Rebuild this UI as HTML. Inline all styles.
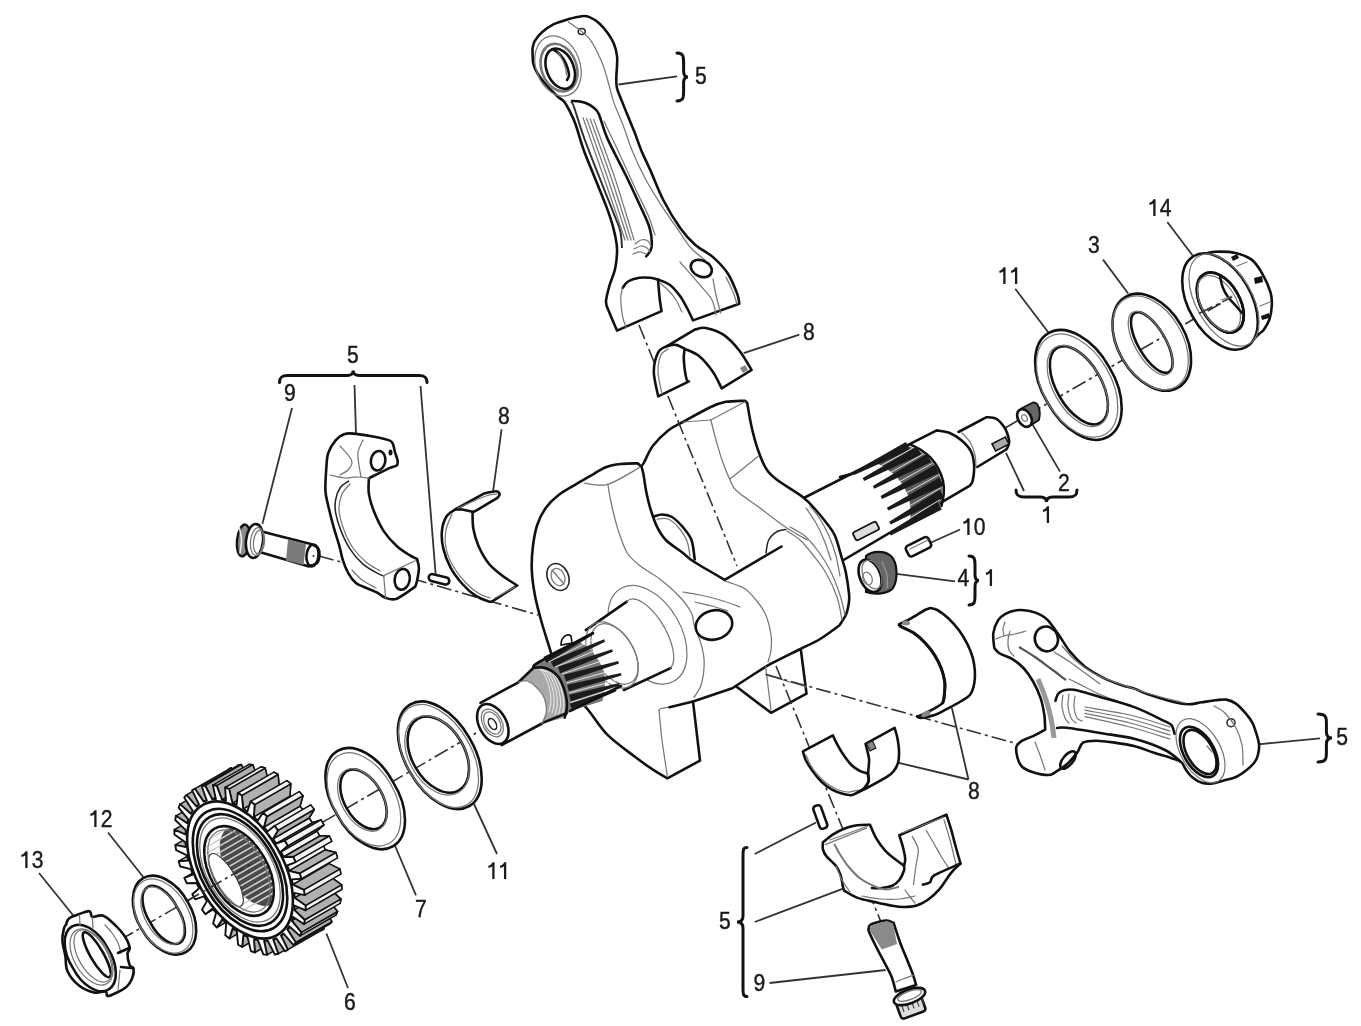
<!DOCTYPE html>
<html><head><meta charset="utf-8"><title>Crankshaft exploded view</title>
<style>
html,body{margin:0;padding:0;background:#fff;}
body{width:1361px;height:1026px;overflow:hidden;}
svg{display:block;filter:blur(0.45px);}
.k{fill:#fff;stroke:#111;stroke-width:2.6;stroke-linejoin:round;stroke-linecap:round;}
.kn{fill:none;stroke:#111;stroke-width:2.6;stroke-linejoin:round;stroke-linecap:round;}
.t{fill:none;stroke:#777;stroke-width:1.25;stroke-linecap:round;}
.m{fill:none;stroke:#222;stroke-width:1.5;stroke-linecap:round;}
.d{fill:none;stroke:#333;stroke-width:1.6;stroke-dasharray:15 4 3 4;}
.l{stroke:#333;stroke-width:1.8;}
.br{fill:none;stroke:#111;stroke-width:3;stroke-linecap:round;}
text{font-family:"Liberation Sans",sans-serif;font-size:22px;fill:#1a1a1a;stroke:#1a1a1a;stroke-width:0.4;}
</style></head>
<body>
<svg width="1361" height="1026" viewBox="0 0 1361 1026">
<path class="d" d="M120,940 L495,722"/>
<path class="d" d="M1005,428 L1232,297"/>
<path class="d" d="M319,556 L341,562"/>
<path class="d" d="M412,578.5 L538,615"/>
<path class="d" d="M639,325 L667.9,396"/>
<path class="d" d="M808.8,746 L881,922"/>
<line class="l" x1="618.5" y1="84.5" x2="677" y2="76.4"/>
<path class="br" d="M677,53 C683.6,53 683.6,57 683.6,62 L683.6,71 C683.6,76 685.8,77 688,77 C685.8,77 683.6,78 683.6,83 L683.6,92 C683.6,97 683.6,101 677,101"/>
<line class="l" x1="1167.3" y1="222" x2="1193" y2="256"/>
<line class="l" x1="1103" y1="259.6" x2="1128.2" y2="293.5"/>
<line class="l" x1="1015.2" y1="288.8" x2="1049" y2="333.3"/>
<line class="l" x1="743.7" y1="353.2" x2="799.3" y2="334.7"/>
<path class="br" d="M279.5,382.5 C279.5,377.5 281.5,375.5 287.5,375.5 L347.2,375.5 C351.2,375.5 353.2,373.5 353.2,370.5 C353.2,373.5 355.2,375.5 359.2,375.5 L419,375.5 C425,375.5 427,377.5 427,382.5"/>
<line class="l" x1="354.5" y1="385" x2="356" y2="433.5"/>
<line class="l" x1="292" y1="408" x2="262.4" y2="523.7"/>
<line class="l" x1="420.5" y1="386" x2="435.6" y2="573.7"/>
<line class="l" x1="501.6" y1="429.4" x2="493.1" y2="491"/>
<line class="l" x1="1032" y1="423.6" x2="1060" y2="471.6"/>
<path class="br" d="M1016,490 C1016,495 1018,497 1024,497 L1040.5,497 C1044.5,497 1046.5,499 1046.5,502 C1046.5,499 1048.5,497 1052.5,497 L1069,497 C1075,497 1077,495 1077,490"/>
<line class="l" x1="1006" y1="452.8" x2="1024" y2="491"/>
<line class="l" x1="960" y1="529.5" x2="930.5" y2="542.7"/>
<line class="l" x1="896.4" y1="573.8" x2="955" y2="581.4"/>
<path class="br" d="M969,556 C975,556 975,560 975,565 L975,574.5 C975,579.5 977,580.5 979,580.5 C977,580.5 975,581.5 975,586.5 L975,596 C975,601 975,605 969,605"/>
<line class="l" x1="1258" y1="744.3" x2="1320" y2="738.3"/>
<path class="br" d="M1318,714 C1326.4,714 1326.4,718 1326.4,723 L1326.4,732 C1326.4,737 1329.2,738 1332,738 C1329.2,738 1326.4,739 1326.4,744 L1326.4,753 C1326.4,758 1326.4,762 1318,762"/>
<line class="l" x1="968.5" y1="779.5" x2="898.8" y2="762.8"/>
<line class="l" x1="968.5" y1="779.5" x2="951.9" y2="708"/>
<line class="l" x1="474" y1="804" x2="497" y2="854"/>
<line class="l" x1="394.3" y1="844" x2="416" y2="895.4"/>
<line class="l" x1="326.4" y1="933.5" x2="348" y2="988"/>
<line class="l" x1="108" y1="832.5" x2="144" y2="878"/>
<line class="l" x1="39" y1="873" x2="73.7" y2="916"/>
<path class="br" d="M747,847.5 C743,847.5 743,850.5 743,855.5 L743,916 C743,921 740,922 737,922 C740,922 743,923 743,928 L743,988.5 C743,993.5 743,996.5 747,996.5"/>
<line class="l" x1="754.7" y1="854" x2="816" y2="822.5"/>
<line class="l" x1="754.7" y1="922" x2="842.5" y2="888.8"/>
<line class="l" x1="769.6" y1="983" x2="885.6" y2="970"/>
<g id="washers_r">
<path class="" d="M1205,254C1206.6,253.6 1209.3,251.9 1214.4,251.7C1219.5,251.5 1229.2,251.5 1235.5,252.9C1241.8,254.3 1247.4,256.4 1251.9,259.9C1256.4,263.4 1259.3,268.4 1262.4,273.9C1265.5,279.3 1269,287.3 1270.6,292.6C1272.2,297.9 1272,301 1271.8,305.5C1271.6,310 1270.8,315.4 1269.4,319.5C1268,323.6 1265.3,327.6 1263.6,330C1261.8,332.4 1261.2,331.8 1258.9,334C1256.6,336.2 1251.5,341.5 1250,343L1220,300Z" fill="#fff"/>
<path class="kn" d="M1205,254C1206.6,253.6 1209.3,251.9 1214.4,251.7C1219.5,251.5 1229.2,251.5 1235.5,252.9C1241.8,254.3 1247.4,256.4 1251.9,259.9C1256.4,263.4 1259.3,268.4 1262.4,273.9C1265.5,279.3 1269,287.3 1270.6,292.6C1272.2,297.9 1272,301 1271.8,305.5C1271.6,310 1270.8,315.4 1269.4,319.5C1268,323.6 1265.3,327.6 1263.6,330C1261.8,332.4 1261.2,331.8 1258.9,334C1256.6,336.2 1251.5,341.5 1250,343"/>
<path d="M1254,278 L1262,276 L1263,282 L1255,284 Z" fill="#111"/>
<path d="M1231,257 L1237,254 L1239,258 L1233,261 Z" fill="#111"/>
<path d="M1261,316 L1269,313 L1269,318 L1262,320 Z" fill="#111"/>
<path class="t" d="M1237,266L1247,262"/>
<path class="t" d="M1260,306L1270,302"/>
<path class="k" d="M1247.1,285.8A31.3,52.4 -30 1 0 1192.9,317.2A31.3,52.4 -30 1 0 1247.1,285.8ZM1237.1,292.8A19.4,32.6 -30 1 0 1203.5,312.2A19.4,32.6 -30 1 0 1237.1,292.8Z" fill-rule="evenodd"/>
<ellipse class="t" cx="1224" cy="300" rx="27.9" ry="50.6" transform="rotate(-30 1224 300)"/>
<ellipse class="kn" cx="1220.3" cy="302.5" rx="19.4" ry="32.6" transform="rotate(-30 1220.3 302.5)"/>
<ellipse class="t" cx="1219" cy="303.5" rx="17.4" ry="30.7" transform="rotate(-30 1219 303.5)"/>
<path class="kn" d="M1220,277C1220.5,278.8 1221.7,284.7 1223,288C1224.3,291.3 1225.8,294 1228,297C1230.2,300 1233.7,303.3 1236,306C1238.3,308.7 1241,311.8 1242,313"/>
<path class="t" d="M1221,300L1232,296"/>
<path class="d" d="M1199,313.5 L1232,297"/>
<path class="k" d="M1181.1,325.3A33.8,52.4 -30 1 0 1122.5,359.1A33.8,52.4 -30 1 0 1181.1,325.3ZM1163.7,335.6A13.7,34 -30 1 0 1139.9,349.4A13.7,34 -30 1 0 1163.7,335.6Z" fill-rule="evenodd"/>
<ellipse class="t" cx="1150.5" cy="342.9" rx="32.3" ry="50.8" transform="rotate(-30 1150.5 342.9)"/>
<ellipse class="t" cx="1150.5" cy="343.2" rx="15.4" ry="35.6" transform="rotate(-30 1150.5 343.2)"/>
<path class="k" d="M1109.2,367.1A35.6,57.6 -30 1 0 1047.6,402.7A35.6,57.6 -30 1 0 1109.2,367.1ZM1098.3,374.1A22.4,43.1 -30 1 0 1059.5,396.5A22.4,43.1 -30 1 0 1098.3,374.1Z" fill-rule="evenodd"/>
<ellipse class="t" cx="1077.1" cy="385.6" rx="34" ry="56.1" transform="rotate(-30 1077.1 385.6)"/>
<ellipse class="t" cx="1077.6" cy="386.1" rx="24" ry="44.7" transform="rotate(-30 1077.6 386.1)"/>
<path d="M1022,408 L1033,402.5 C1039,402 1041,412 1039,420 L1028,427 Z" fill="#666" stroke="#111" stroke-width="1.8" stroke-linejoin="round"/>
<ellipse class="k" cx="1024.5" cy="418" rx="6.5" ry="9.5" transform="rotate(-30 1024.5 418)"/>
<ellipse class="t" cx="1024.5" cy="418" rx="2.5" ry="3.5" transform="rotate(-30 1024.5 418)"/>
</g>
<g id="crank">
<path class="" d="M958.5,432L986.6,417.2C988.2,417.4 993.1,417.1 996,418.7C998.9,420.2 1002,424.1 1003.8,426.5C1005.6,428.9 1006.1,430.2 1007,432.8C1007.9,435.4 1009.2,439.4 1009.2,442C1009.2,444.6 1007.6,447.1 1007,448.4C1006.4,449.7 1005.6,449.7 1005.3,450L977.3,467L958.5,432Z" fill="#fff"/>
<path class="kn" d="M958.5,432L986.6,417.2C988.2,417.4 993.1,417.1 996,418.7C998.9,420.2 1002,424.1 1003.8,426.5C1005.6,428.9 1006.1,430.2 1007,432.8C1007.9,435.4 1009.2,439.4 1009.2,442C1009.2,444.6 1007.6,447.1 1007,448.4C1006.4,449.7 1005.6,449.7 1005.3,450L977.3,467"/>
<path class="t" d="M962,433C963.3,434.5 967.8,438.3 970,442C972.2,445.7 974,451 975,455C976,459 975.8,464.2 976,466"/>
<rect x="993" y="440" width="15" height="8" fill="#aaa" stroke="#111" stroke-width="1.6" transform="rotate(-27 1000.5 444)"/>
<path class="k" d="M790,505L936.7,430.4C938.8,430.8 945,431.1 949.2,432.8C953.4,434.5 958.1,437.5 961.7,440.6C965.3,443.7 968.9,447.4 971,451.5C973.1,455.6 973.8,460.6 974.1,465.5C974.4,470.4 973.4,477.7 972.6,481.1C971.8,484.5 970,485 969.5,485.8L830,568Z"/>
<path class="kn" d="M910.2,444.5C912,445.4 917.6,447.8 921,450C924.4,452.2 927.6,454.6 930.5,457.7C933.4,460.8 936.2,464.7 938.3,468.6C940.4,472.5 942.1,476.9 943,481.1C943.9,485.3 944,489.5 943.7,493.6C943.4,497.8 941.8,503.9 941.4,506"/>
<polygon points="875.6,462.4 885.6,467.9 895.7,475.6 903.6,486.1 909.2,498.1 910.8,511.5 909.8,522.6 939.5,505.5 942,494 941.5,481.5 937,469 929,458 919,450.5 908,446" fill="#5a5a5a"/>
<polygon points="854.7,474.7 910.1,450.1 905.9,441.9 853.3,471.9" fill="#1a1a1a"/>
<polygon points="864.1,480.9 921.1,454.6 916.9,446.4 862.7,478.1" fill="#1a1a1a"/>
<polygon points="874.2,488.7 931.1,462.1 926.9,453.9 872.8,485.9" fill="#1a1a1a"/>
<polygon points="882,498.9 939.1,473.1 934.9,464.9 880.6,496.1" fill="#1a1a1a"/>
<polygon points="888.3,510.6 943.6,485.6 939.4,477.4 886.9,507.8" fill="#1a1a1a"/>
<polygon points="890.8,524.6 944.3,498 939.7,490 889.2,521.8" fill="#1a1a1a"/>
<polygon points="890.8,535.4 941.8,509.5 937.2,501.5 889.2,532.6" fill="#1a1a1a"/>
<line x1="861.7" y1="476.4" x2="912.5" y2="448.2" stroke="#eee" stroke-width="0.9"/>
<line x1="871.5" y1="483.4" x2="923" y2="454.2" stroke="#eee" stroke-width="0.9"/>
<line x1="880.4" y1="492.4" x2="932" y2="463.5" stroke="#eee" stroke-width="0.9"/>
<line x1="887.5" y1="503.4" x2="938.2" y2="475.2" stroke="#eee" stroke-width="0.9"/>
<line x1="891.8" y1="516.2" x2="940.8" y2="487.8" stroke="#eee" stroke-width="0.9"/>
<line x1="893" y1="528.6" x2="939.8" y2="499.8" stroke="#eee" stroke-width="0.9"/>
<path class="kn" d="M840,477L854,473.3"/>
<rect x="853" y="526.5" width="26" height="9" rx="2" fill="#ddd" stroke="#111" stroke-width="1.8" transform="rotate(-27 866 531)"/>
<polygon class="k" points="733,684 771,712.8 806.5,693.7 800.5,647"/>
<path class="k" d="M550,649.4C548.6,644.8 543.9,630.4 541.4,621.5C538.9,612.6 536.6,604.4 535,595.8C533.4,587.2 532.1,578.2 531.8,570C531.4,561.8 532,554 532.9,546.5C533.8,539 535.1,531.4 537.2,525C539.3,518.6 542.1,512.9 545.7,507.9C549.3,502.9 553.6,498.9 558.6,495C563.6,491.1 570.4,487.5 575.8,484.3C581.2,481.1 585.8,478.6 590.8,475.7C595.8,472.8 600.8,469.1 605.8,467.2C610.8,465.2 615.4,464.6 620.8,464C626.2,463.4 635.1,463.4 638,463.3C638.5,463.8 640.2,466.2 641.2,466C642.2,465.8 643.8,462.7 644.3,462C645.7,459.3 649,451 652.9,445.8C656.8,440.6 662.9,434.7 667.9,430.7C672.9,426.7 675.8,425.9 682.9,422C690,418.1 703.6,410.4 710.8,407C717.9,403.6 720.1,402.9 725.8,401.8C731.5,400.8 741.8,400.9 745,400.7L747.2,402.9C747.9,406.8 749.7,418.6 751.5,426.5C753.3,434.4 755.5,442.9 758,450C760.5,457.1 763.3,464.3 766.5,469.3C769.7,474.3 771.1,475.4 777.2,480C783.3,484.6 796.6,492.2 803,497.2C809.4,502.2 811.9,505.7 815.8,510C819.7,514.3 823.3,518.7 826.5,523C829.7,527.3 832.5,530.1 835,535.8C837.5,541.5 839.8,551.2 841.6,557.3C843.4,563.4 844.6,566.2 845.8,572.3C847,578.4 848.5,588.6 849,593.7C849.5,598.8 849.3,599.5 848.8,603C848.3,606.5 847.6,610.9 846,614.6C844.4,618.4 840.4,623.7 839.3,625.5C836.1,627.8 827,634.9 820.2,639C813.4,643.1 806.5,645.9 798.3,650C790.1,654.1 777.8,660 771,663.7C764.2,667.4 763.9,667.9 757.4,672C750.9,676.1 736.5,685.5 732.3,688.2L693,701.4L700,760.6L667.3,778.3C665,776.9 659.2,773.8 653.7,770.2C648.2,766.6 642.3,762.4 634.6,756.5C626.9,750.6 615,742.5 607.3,734.7C599.6,727 593.7,716.6 588.2,710C582.7,703.4 579.8,702 574.5,695C569.2,688 560.7,675.6 556.6,668C552.5,660.4 551.1,652.5 550,649.4Z"/>
<path class="t" d="M765.6,666.4L771,710"/>
<path class="t" d="M765.6,674.6L806.5,687"/>
<path class="t" d="M659,710.5C659.3,710.2 659.2,709 661,708.5C662.8,708 668.1,707.4 669.5,707.2"/>
<path class="t" d="M659,710C659.5,715 660.6,729.1 662,740C663.4,750.9 666.4,769.7 667.3,775.6"/>
<path class="kn" d="M669.5,707.2L693,701.4"/>
<path class="kn" d="M641.2,466C641.6,467.3 642.4,469.1 643.3,473.6C644.2,478.1 645.2,486.8 646.5,492.9C647.8,499 649,504.3 650.8,510C652.6,515.7 654.7,522.2 657.2,527.2C659.7,532.2 661.5,535.7 665.8,540C670.1,544.3 678.4,549.4 683,553C687.6,556.6 686.6,557 693.6,561.5C700.6,566 719.5,576.8 724.7,579.8"/>
<path class="kn" d="M724.7,579.8L781.5,546.5"/>
<path class="kn" d="M654,516.5C655.3,516.2 659,514.4 662,514.5C665,514.6 668.5,514.9 672,517C675.5,519.1 679.6,523.4 682.9,527.2C686.1,531 689.5,534.6 691.5,540C693.5,545.4 694.2,556.2 694.7,559.4"/>
<path class="t" d="M657,519C658.8,519 664.3,517.5 668,519C671.7,520.5 675.8,524.3 679,528C682.2,531.7 685.2,536.3 687,541C688.8,545.7 689.5,553.5 690,556"/>
<path class="m" d="M766,553C766.5,550.8 766.8,543.6 768.7,540C770.6,536.4 774.3,533.3 777.2,531.5C780.1,529.7 784.5,529.8 786,529.4"/>
<path class="t" d="M787,531C789.2,532.5 795.7,536 800,540C804.3,544 808.7,549.5 813,555C817.3,560.5 822,566 826,573C830,580 834.3,589.2 837,597C839.7,604.8 841.2,616.2 842,620"/>
<path class="t" d="M790,527C792.5,528.5 800.3,532 805,536C809.7,540 813.8,545.3 818,551C822.2,556.7 826.3,562.7 830,570C833.7,577.3 837.5,587.5 840,595C842.5,602.5 844.2,611.7 845,615"/>
<path class="t" d="M682.9,422L710.8,420"/>
<path class="t" d="M710.8,420L745,401.8"/>
<path class="t" d="M710.8,420C711.7,423.3 714.1,433.3 716,440C717.9,446.7 719.7,453.3 722,460C724.3,466.7 727.6,474.9 730,480C732.4,485.1 731.5,486.1 736.5,490.8C741.5,495.5 751.8,501.9 760,508C768.2,514.1 777.9,521.9 785.8,527.2C793.7,532.5 803.7,537.9 807.3,540"/>
<path class="t" d="M730,479C732.5,477 740.3,470.8 745,467C749.7,463.2 755.8,458.2 758,456.5"/>
<path class="t" d="M810,506C811.7,508.2 816.8,514 820,519C823.2,524 826.3,529.8 829,536C831.7,542.2 834.2,549.3 836,556C837.8,562.7 839.3,572.7 840,576"/>
<path class="t" d="M806,508C807.7,510.5 813,517.7 816,523C819,528.3 821.5,533.8 824,540C826.5,546.2 829.8,556.7 831,560"/>
<path class="t" d="M584.3,483.2C588.2,483.4 598.6,487 607.9,484.3C617.2,481.6 634.6,470.1 640,467.2"/>
<path class="t" d="M607.9,484.3C608.2,486.4 609,492.1 610,497.2C611,502.3 612.6,509.3 614,515C615.4,520.7 616.4,525.2 618.6,531.5C620.8,537.8 623.6,547.3 627.2,553C630.8,558.7 634.6,561.5 640,565.8C645.4,570.1 652.9,573.7 659.4,578.7C665.9,583.7 673.4,590.1 678.7,595.8C684.1,601.5 689,608.2 691.5,613C694,617.8 692.4,619 694,624.3C695.6,629.6 699.6,638.5 701.3,644.8C703,651.1 704.2,655.7 704.2,662.3C704.2,668.9 703,678.4 701.3,684.2C699.6,690.1 695.2,695.2 694,697.4"/>
<path class="t" d="M724.7,581C727.9,582.2 738.6,584.8 743.8,588C749,591.2 752.4,595.6 756,600C759.6,604.4 763.1,608.8 765.6,614.6C768.1,620.4 770.1,629.1 771,635C771.9,640.9 771.5,645.5 771,650C770.5,654.5 768.5,660 768,662"/>
<ellipse class="m" cx="558" cy="577" rx="10.5" ry="14" transform="rotate(-25 558 577)"/>
<ellipse class="t" cx="558" cy="577" rx="6.5" ry="9" transform="rotate(-25 558 577)"/>
<path class="t" d="M552,570L564,584"/>
<ellipse class="kn" cx="714" cy="625" rx="18.5" ry="14.5" transform="rotate(-15 714 625)"/>
<path class="t" d="M683,592C685.8,592.5 693.8,593.7 700,595C706.2,596.3 713.3,598 720,600C726.7,602 736.7,605.8 740,607"/>
<path class="t" d="M695,602C697.8,602.7 706.5,604.5 712,606C717.5,607.5 725.3,610.2 728,611"/>
<ellipse class="t" cx="647.5" cy="634.8" rx="33.6" ry="53.4" transform="rotate(-30 647.5 634.8)"/>
<path d="M585.8,630.1 L626.8,601.6 A17.3,40 -30 0 1 670.6,668.1 L623.8,690 A22,36 -30 0 1 585.8,630.1 Z" fill="#fff"/>
<path class="kn" d="M585.8,630.1L626.8,601.6"/>
<path class="kn" d="M623.8,690L670.6,668.1"/>
<path class="t" d="M626.8,601.6 A17.3,40 -30 0 1 670.6,668.1"/>
<ellipse class="t" cx="612" cy="655" rx="22" ry="36" transform="rotate(-30 612 655)"/>
<ellipse class="t" cx="614.5" cy="654" rx="19.5" ry="33" transform="rotate(-30 614.5 654)"/>
<polygon points="534,666 540,662 578.6,641.5 588.8,647.5 596,656.4 602.5,667 605.2,678.3 604.7,688.4 602.5,701 570,711 564.7,717.8 566.8,708.5 566.5,699 564.4,690 561.4,682.3 557.9,676.4 552,671.2 543.2,667.6" fill="#7a7a7a"/>
<polygon points="546.6,663 593.6,634.6 592.4,632.4 543.4,657" fill="#1c1c1c"/>
<polygon points="553.4,667.1 605.1,641.7 604.1,639.3 550.6,660.9" fill="#1c1c1c"/>
<polygon points="560.2,673.2 612.9,651.7 612.1,649.3 557.8,666.8" fill="#1c1c1c"/>
<polygon points="566,681.3 619,663.5 618.2,661.1 564,674.7" fill="#1c1c1c"/>
<polygon points="568.9,691.3 621.5,675.5 620.9,672.9 567.1,684.7" fill="#1c1c1c"/>
<polygon points="570.9,701.3 619.8,685.6 619.2,683 569.1,694.7" fill="#1c1c1c"/>
<polygon points="572.2,710.2 616.5,691.2 615.5,688.8 569.8,703.8" fill="#1c1c1c"/>
<line x1="548.5" y1="662" x2="595.8" y2="638" stroke="#eee" stroke-width="0.9"/>
<line x1="555.5" y1="667" x2="605.5" y2="646.5" stroke="#eee" stroke-width="0.9"/>
<line x1="562" y1="674" x2="612.5" y2="657.4" stroke="#eee" stroke-width="0.9"/>
<line x1="566.5" y1="683" x2="616.9" y2="669.2" stroke="#eee" stroke-width="0.9"/>
<line x1="569" y1="693" x2="617.4" y2="680.2" stroke="#eee" stroke-width="0.9"/>
<line x1="570.5" y1="702.5" x2="614.8" y2="688.1" stroke="#eee" stroke-width="0.9"/>
<path class="kn" d="M533.5,667C534.6,666.1 530.1,667.2 540,661.5C549.9,655.8 584.2,637.8 593,633"/>
<path class="kn" d="M570,711L621,686"/>
<path d="M561,645 C561,637 567,633 571,636 L572,643 Z" fill="#fff" stroke="#111" stroke-width="1.6"/>
<path d="M533.5,667.8C535.1,667.8 540.1,667 543.2,667.6C546.3,668.2 549.5,669.7 552,671.2C554.5,672.7 556.3,674.5 557.9,676.4C559.5,678.2 560.3,680 561.4,682.3C562.5,684.6 563.5,687.2 564.4,690C565.2,692.8 566.1,695.9 566.5,699C566.9,702.1 567.1,705.4 566.8,708.5C566.5,711.6 565.1,716.2 564.7,717.8L542,723.5C542.7,721.9 545.3,717.1 546,714C546.7,710.9 546.5,708 546,705C545.5,702 544.7,698.6 543.2,695.8C541.8,693 539.2,690.3 537.3,688.2C535.3,686.1 533.5,684.3 531.5,683C529.5,681.7 527.8,680.7 525.6,680.6C523.4,680.5 519.7,682 518.5,682.3L533.5,667.8Z" fill="#a9a9a9"/>
<clipPath id="thr"><path d="M533.5,667.8C535.1,667.8 540.1,667 543.2,667.6C546.3,668.2 549.5,669.7 552,671.2C554.5,672.7 556.3,674.5 557.9,676.4C559.5,678.2 560.3,680 561.4,682.3C562.5,684.6 563.5,687.2 564.4,690C565.2,692.8 566.1,695.9 566.5,699C566.9,702.1 567.1,705.4 566.8,708.5C566.5,711.6 565.1,716.2 564.7,717.8L542,723.5C542.7,721.9 545.3,717.1 546,714C546.7,710.9 546.5,708 546,705C545.5,702 544.7,698.6 543.2,695.8C541.8,693 539.2,690.3 537.3,688.2C535.3,686.1 533.5,684.3 531.5,683C529.5,681.7 527.8,680.7 525.6,680.6C523.4,680.5 519.7,682 518.5,682.3L533.5,667.8Z"/></clipPath>
<g clip-path="url(#thr)">
<path class="" d="M517.5,662.2C519.1,662.2 524.1,661.4 527.2,662C530.3,662.6 533.5,664.1 536,665.6C538.5,667.1 540.3,668.9 541.9,670.8C543.5,672.6 544.3,674.4 545.4,676.7C546.5,679 547.5,681.6 548.4,684.4C549.2,687.2 550.1,690.3 550.5,693.4C550.9,696.5 551.1,699.8 550.8,702.9C550.5,706 549.1,710.6 548.7,712.2" fill="none" stroke="#eee" stroke-width="1"/>
<path class="" d="M520.7,663.3C522.3,663.3 527.3,662.6 530.4,663.1C533.5,663.7 536.8,665.3 539.2,666.7C541.7,668.2 543.5,670.1 545.1,671.9C546.7,673.8 547.5,675.6 548.6,677.8C549.7,680.1 550.8,682.7 551.6,685.5C552.5,688.3 553.3,691.4 553.7,694.5C554.1,697.6 554.3,700.9 554,704C553.7,707.2 552.3,711.8 551.9,713.3" fill="none" stroke="#eee" stroke-width="1"/>
<path class="" d="M523.9,664.4C525.5,664.4 530.5,663.7 533.6,664.2C536.7,664.8 540,666.4 542.4,667.8C544.8,669.3 546.7,671.2 548.3,673C549.9,674.9 550.7,676.7 551.8,678.9C552.9,681.2 553.9,683.9 554.8,686.6C555.6,689.4 556.5,692.6 556.9,695.6C557.3,698.7 557.5,702 557.2,705.1C556.9,708.3 555.5,712.9 555.1,714.4" fill="none" stroke="#eee" stroke-width="1"/>
<path class="" d="M527.1,665.6C528.7,665.5 533.7,664.8 536.8,665.4C539.9,665.9 543.2,667.5 545.6,669C548,670.4 549.9,672.3 551.5,674.2C553.1,676 553.9,677.8 555,680.1C556.1,682.3 557.1,685 558,687.8C558.9,690.5 559.7,693.7 560.1,696.8C560.5,699.8 560.7,703.1 560.4,706.3C560.1,709.4 558.7,714 558.3,715.6" fill="none" stroke="#eee" stroke-width="1"/>
<path class="" d="M530.3,666.7C531.9,666.6 536.9,665.9 540,666.5C543.1,667 546.3,668.6 548.8,670.1C551.2,671.5 553.1,673.4 554.7,675.3C556.3,677.1 557.1,678.9 558.2,681.2C559.3,683.4 560.3,686.1 561.2,688.9C562,691.7 562.9,694.8 563.3,697.9C563.7,701 563.9,704.2 563.6,707.4C563.3,710.5 561.9,715.1 561.5,716.7" fill="none" stroke="#eee" stroke-width="1"/>
<path class="" d="M533.5,667.8C535.1,667.8 540.1,667 543.2,667.6C546.3,668.2 549.5,669.7 552,671.2C554.5,672.7 556.3,674.5 557.9,676.4C559.5,678.2 560.3,680 561.4,682.3C562.5,684.6 563.5,687.2 564.4,690C565.2,692.8 566.1,695.9 566.5,699C566.9,702.1 567.1,705.4 566.8,708.5C566.5,711.6 565.1,716.2 564.7,717.8" fill="none" stroke="#eee" stroke-width="1"/>
<path class="" d="M536.7,668.9C538.3,668.9 543.3,668.2 546.4,668.7C549.5,669.3 552.8,670.9 555.2,672.3C557.7,673.8 559.5,675.7 561.1,677.5C562.7,679.4 563.5,681.2 564.6,683.4C565.7,685.7 566.8,688.3 567.6,691.1C568.5,693.9 569.3,697 569.7,700.1C570.1,703.2 570.3,706.5 570,709.6C569.7,712.8 568.3,717.4 567.9,718.9" fill="none" stroke="#eee" stroke-width="1"/>
<path class="" d="M539.9,670C541.5,670 546.5,669.3 549.6,669.8C552.7,670.4 556,672 558.4,673.4C560.8,674.9 562.7,676.8 564.3,678.6C565.9,680.5 566.7,682.3 567.8,684.5C568.9,686.8 569.9,689.5 570.8,692.2C571.6,695 572.5,698.2 572.9,701.2C573.3,704.3 573.5,707.6 573.2,710.7C572.9,713.9 571.5,718.5 571.1,720" fill="none" stroke="#eee" stroke-width="1"/>
<path class="" d="M543.1,671.2C544.7,671.1 549.7,670.4 552.8,671C555.9,671.5 559.2,673.1 561.6,674.6C564,676 565.9,677.9 567.5,679.8C569.1,681.6 569.9,683.4 571,685.7C572.1,687.9 573.1,690.6 574,693.4C574.9,696.1 575.7,699.3 576.1,702.4C576.5,705.4 576.7,708.7 576.4,711.9C576.1,715 574.7,719.6 574.3,721.2" fill="none" stroke="#eee" stroke-width="1"/>
</g>
<path class="kn" d="M533.5,667.8C535.1,667.8 540.1,667 543.2,667.6C546.3,668.2 549.5,669.7 552,671.2C554.5,672.7 556.3,674.5 557.9,676.4C559.5,678.2 560.3,680 561.4,682.3C562.5,684.6 563.5,687.2 564.4,690C565.2,692.8 566.1,695.9 566.5,699C566.9,702.1 567.1,705.4 566.8,708.5C566.5,711.6 565.1,716.2 564.7,717.8"/>
<path class="kn" d="M518.5,682.3L533.5,667.8"/>
<path class="kn" d="M540.2,723.9L566.5,713.3"/>
<path class="" d="M480.5,702.8L518.5,682.3C519.7,682 523.4,680.5 525.6,680.6C527.8,680.7 529.5,681.7 531.5,683C533.5,684.3 535.3,686.1 537.3,688.2C539.2,690.3 541.8,693 543.2,695.8C544.7,698.6 545.5,702 546,705C546.5,708 546.7,710.9 546,714C545.3,717.1 542.7,721.9 542,723.5L501.6,745Z" fill="#fff"/>
<path class="kn" d="M480.5,702.8L518.5,682.3"/>
<path class="kn" d="M501.6,745L542,723.5"/>
<path class="t" d="M518.5,682.3C519.7,682 523.4,680.5 525.6,680.6C527.8,680.7 529.5,681.7 531.5,683C533.5,684.3 535.3,686.1 537.3,688.2C539.2,690.3 541.8,693 543.2,695.8C544.7,698.6 545.5,702 546,705C546.5,708 546.7,710.9 546,714C545.3,717.1 542.7,721.9 542,723.5"/>
<ellipse class="k" cx="492.8" cy="724" rx="13.5" ry="21.5" transform="rotate(-29 492.8 724)"/>
<ellipse class="t" cx="492.3" cy="723" rx="9.5" ry="15" transform="rotate(-29 492.3 723)"/>
<ellipse class="t" cx="492.3" cy="723" rx="7.5" ry="12" transform="rotate(-29 492.3 723)"/>
<ellipse class="m" cx="492.5" cy="724" rx="3.5" ry="6" transform="rotate(-29 492.5 724)"/>
</g>
<g id="axes_top">
<path class="d" d="M667.9,396 L737,566"/>
<path class="d" d="M776,666 L808.8,746"/>
<path class="d" d="M766,674.6 L1018,744"/>
</g>
<g id="washers_l">
<path class="k" d="M469.5,738.1A34.3,57.9 -30 1 0 410.1,772.4A34.3,57.9 -30 1 0 469.5,738.1ZM461,741.5A26.2,41.3 -30 1 0 415.6,767.7A26.2,41.3 -30 1 0 461,741.5Z" fill-rule="evenodd"/>
<ellipse class="t" cx="438.5" cy="756" rx="32.8" ry="56.4" transform="rotate(-30 438.5 756)"/>
<ellipse class="t" cx="437" cy="755.4" rx="27.8" ry="42.8" transform="rotate(-30 437 755.4)"/>
<path class="k" d="M393.2,782.4A32.4,52.2 -30 1 0 337.2,814.8A32.4,52.2 -30 1 0 393.2,782.4ZM380,789.8A19,32.6 -30 1 0 347,808.8A19,32.6 -30 1 0 380,789.8Z" fill-rule="evenodd"/>
<ellipse class="t" cx="363.9" cy="799.4" rx="30.8" ry="50.7" transform="rotate(-30 363.9 799.4)"/>
<ellipse class="t" cx="362.2" cy="800" rx="20.6" ry="34.1" transform="rotate(-30 362.2 800)"/>
<polygon points="312.3,822.8 321,819.9 323.9,824.9 317,831 319.6,836.1 329.4,836 331.7,841.3 323.3,844.7 325.2,849.9 335.9,852.6 337.5,857.9 327.8,858.5 329,863.7 340,869.1 340.8,874.2 330.3,872 330.7,876.9 341.7,884.8 341.7,889.5 330.7,884.6 330.3,889.1 340.9,899.1 340.1,903.3 329,895.9 327.9,899.7 337.6,911.5 336,915 325.3,905.3 323.4,908.4 331.9,921.6 329.6,924.2 319.7,912.6 317.2,914.8 324.1,928.8 321.2,930.5 312.5,917.5 309.3,918.7 314.4,933 311,933.6 303.8,919.7 300.2,919.9 303.3,933.9 299.5,933.5 294.1,919.2 290.1,918.3 291.1,931.6 287,930.2 283.6,916.1 279.6,914.2 278.3,926.2 274.2,923.8 272.9,910.3 268.9,907.5 265.5,917.7 261.4,914.4 262.3,902.2 258.4,898.6 253.1,906.7 249.2,902.6 252.3,892.1 248.7,887.8 241.5,893.4 238.1,888.7 243.1,880.3 240,875.5 231.3,878.4 228.4,873.3 235.3,867.3 232.7,862.2 222.8,862.3 220.5,857 228.9,853.6 227,848.3 216.4,845.7 214.8,840.4 224.5,839.8 223.3,834.6 212.2,829.2 211.4,824.1 222,826.3 221.5,821.3 210.5,813.5 210.5,808.7 221.5,813.7 221.9,809.2 211.4,799.2 212.2,795 223.2,802.4 224.4,798.6 214.7,786.7 216.3,783.3 226.9,792.9 228.8,789.9 220.4,776.7 222.7,774.1 232.5,785.7 235.1,783.5 228.2,769.5 231.1,767.8 239.8,780.8 242.9,779.6 237.9,765.3 241.3,764.6 248.5,778.6 252.1,778.4 249,764.4 252.8,764.7 258.2,779 262.1,779.9 261.2,766.7 265.2,768.1 268.6,782.2 272.7,784.1 273.9,772.1 278.1,774.5 279.3,788 283.4,790.8 286.8,780.6 290.8,783.8 289.9,796.1 293.8,799.7 299.2,791.6 303,795.7 300,806.2 303.6,810.5 310.7,804.9 314.2,809.5 309.1,818" fill="#fff" stroke="#111" stroke-width="1.6" stroke-linejoin="round"/>
<polygon points="212.5,908.6 205.4,914.2 241.5,893.4 248.7,887.8" fill="#b0b0b0" stroke="#111" stroke-width="1.5" stroke-linejoin="round"/>
<polygon points="184.4,877.9 192.8,874.5 228.9,853.6 220.5,857" fill="#b0b0b0" stroke="#111" stroke-width="1.5" stroke-linejoin="round"/>
<polygon points="222.3,919.4 216.9,927.5 253.1,906.7 258.4,898.6" fill="#b0b0b0" stroke="#111" stroke-width="1.5" stroke-linejoin="round"/>
<polygon points="178.7,861.2 188.3,860.6 224.5,839.8 214.8,840.4" fill="#b0b0b0" stroke="#111" stroke-width="1.5" stroke-linejoin="round"/>
<polygon points="175.3,844.9 185.8,847.1 222,826.3 211.4,824.1" fill="#b0b0b0" stroke="#111" stroke-width="1.5" stroke-linejoin="round"/>
<polygon points="232.7,928.4 229.4,938.6 265.5,917.7 268.9,907.5" fill="#b0b0b0" stroke="#111" stroke-width="1.5" stroke-linejoin="round"/>
<polygon points="174.4,829.6 185.4,834.5 221.5,813.7 210.5,808.7" fill="#b0b0b0" stroke="#111" stroke-width="1.5" stroke-linejoin="round"/>
<polygon points="243.4,935 242.2,947 278.3,926.2 279.6,914.2" fill="#b0b0b0" stroke="#111" stroke-width="1.5" stroke-linejoin="round"/>
<polygon points="254,939.2 254.9,952.5 291.1,931.6 290.1,918.3" fill="#b0b0b0" stroke="#111" stroke-width="1.5" stroke-linejoin="round"/>
<polygon points="176,815.8 187.1,823.3 223.2,802.4 212.2,795" fill="#b0b0b0" stroke="#111" stroke-width="1.5" stroke-linejoin="round"/>
<polygon points="180.1,804.1 190.8,813.8 226.9,792.9 216.3,783.3" fill="#b0b0b0" stroke="#111" stroke-width="1.5" stroke-linejoin="round"/>
<polygon points="264.1,940.7 267.1,954.8 303.3,933.9 300.2,919.9" fill="#b0b0b0" stroke="#111" stroke-width="1.5" stroke-linejoin="round"/>
<polygon points="186.5,794.9 196.4,806.5 232.5,785.7 222.7,774.1" fill="#b0b0b0" stroke="#111" stroke-width="1.5" stroke-linejoin="round"/>
<polygon points="273.2,939.5 278.3,953.8 314.4,933 309.3,918.7" fill="#b0b0b0" stroke="#111" stroke-width="1.5" stroke-linejoin="round"/>
<polygon points="195,788.7 203.7,801.7 239.8,780.8 231.1,767.8" fill="#b0b0b0" stroke="#111" stroke-width="1.5" stroke-linejoin="round"/>
<polygon points="281,935.6 287.9,949.7 324.1,928.8 317.2,914.8" fill="#b0b0b0" stroke="#111" stroke-width="1.5" stroke-linejoin="round"/>
<polygon points="203.7,801.7 206.8,800.5 242.9,779.6 239.8,780.8" fill="#f4f4f4" stroke="#111" stroke-width="1.5" stroke-linejoin="round"/>
<polygon points="283.6,933.5 281,935.6 317.2,914.8 319.7,912.6" fill="#f4f4f4" stroke="#111" stroke-width="1.5" stroke-linejoin="round"/>
<polygon points="201.7,786.2 205.2,785.5 241.3,764.6 237.9,765.3" fill="#f4f4f4" stroke="#111" stroke-width="1.5" stroke-linejoin="round"/>
<polygon points="295.8,942.4 293.5,945.1 329.6,924.2 331.9,921.6" fill="#f4f4f4" stroke="#111" stroke-width="1.5" stroke-linejoin="round"/>
<polygon points="287.3,929.2 295.8,942.4 331.9,921.6 323.4,908.4" fill="#b0b0b0" stroke="#111" stroke-width="1.5" stroke-linejoin="round"/>
<polygon points="205.2,785.5 212.3,799.4 248.5,778.6 241.3,764.6" fill="#b0b0b0" stroke="#111" stroke-width="1.5" stroke-linejoin="round"/>
<polygon points="289.2,926.2 287.3,929.2 323.4,908.4 325.3,905.3" fill="#f4f4f4" stroke="#111" stroke-width="1.5" stroke-linejoin="round"/>
<polygon points="212.3,799.4 215.9,799.3 252.1,778.4 248.5,778.6" fill="#f4f4f4" stroke="#111" stroke-width="1.5" stroke-linejoin="round"/>
<polygon points="301.4,932.4 299.9,935.9 336,915 337.6,911.5" fill="#f4f4f4" stroke="#111" stroke-width="1.5" stroke-linejoin="round"/>
<polygon points="212.9,785.2 216.7,785.6 252.8,764.7 249,764.4" fill="#f4f4f4" stroke="#111" stroke-width="1.5" stroke-linejoin="round"/>
<polygon points="291.7,920.6 301.4,932.4 337.6,911.5 327.9,899.7" fill="#b0b0b0" stroke="#111" stroke-width="1.5" stroke-linejoin="round"/>
<polygon points="216.7,785.6 222.1,799.9 258.2,779 252.8,764.7" fill="#b0b0b0" stroke="#111" stroke-width="1.5" stroke-linejoin="round"/>
<polygon points="292.9,916.7 291.7,920.6 327.9,899.7 329,895.9" fill="#f4f4f4" stroke="#111" stroke-width="1.5" stroke-linejoin="round"/>
<polygon points="222.1,799.9 226,800.8 262.1,779.9 258.2,779" fill="#f4f4f4" stroke="#111" stroke-width="1.5" stroke-linejoin="round"/>
<polygon points="232.5,803.1 236.6,805 272.7,784.1 268.6,782.2" fill="#f4f4f4" stroke="#111" stroke-width="1.5" stroke-linejoin="round"/>
<polygon points="294.6,905.5 294.2,909.9 330.3,889.1 330.7,884.6" fill="#f4f4f4" stroke="#111" stroke-width="1.5" stroke-linejoin="round"/>
<polygon points="229.1,788.9 232.5,803.1 268.6,782.2 265.2,768.1" fill="#b0b0b0" stroke="#111" stroke-width="1.5" stroke-linejoin="round"/>
<polygon points="294.2,909.9 304.8,920 340.9,899.1 330.3,889.1" fill="#b0b0b0" stroke="#111" stroke-width="1.5" stroke-linejoin="round"/>
<polygon points="225.1,787.5 229.1,788.9 265.2,768.1 261.2,766.7" fill="#f4f4f4" stroke="#111" stroke-width="1.5" stroke-linejoin="round"/>
<polygon points="304.8,920 304,924.2 340.1,903.3 340.9,899.1" fill="#f4f4f4" stroke="#111" stroke-width="1.5" stroke-linejoin="round"/>
<polygon points="243.2,808.8 247.3,811.6 283.4,790.8 279.3,788" fill="#f4f4f4" stroke="#111" stroke-width="1.5" stroke-linejoin="round"/>
<polygon points="294.2,892.9 294.6,897.8 330.7,876.9 330.3,872" fill="#f4f4f4" stroke="#111" stroke-width="1.5" stroke-linejoin="round"/>
<polygon points="241.9,795.4 243.2,808.8 279.3,788 278.1,774.5" fill="#b0b0b0" stroke="#111" stroke-width="1.5" stroke-linejoin="round"/>
<polygon points="294.6,897.8 305.6,905.6 341.7,884.8 330.7,876.9" fill="#b0b0b0" stroke="#111" stroke-width="1.5" stroke-linejoin="round"/>
<polygon points="237.8,793 241.9,795.4 278.1,774.5 273.9,772.1" fill="#f4f4f4" stroke="#111" stroke-width="1.5" stroke-linejoin="round"/>
<polygon points="305.6,905.6 305.6,910.4 341.7,889.5 341.7,884.8" fill="#f4f4f4" stroke="#111" stroke-width="1.5" stroke-linejoin="round"/>
<polygon points="253.8,816.9 257.7,820.6 293.8,799.7 289.9,796.1" fill="#f4f4f4" stroke="#111" stroke-width="1.5" stroke-linejoin="round"/>
<polygon points="291.7,879.4 292.9,884.6 329,863.7 327.8,858.5" fill="#f4f4f4" stroke="#111" stroke-width="1.5" stroke-linejoin="round"/>
<polygon points="292.9,884.6 303.9,889.9 340,869.1 329,863.7" fill="#b0b0b0" stroke="#111" stroke-width="1.5" stroke-linejoin="round"/>
<polygon points="254.7,804.7 253.8,816.9 289.9,796.1 290.8,783.8" fill="#b0b0b0" stroke="#111" stroke-width="1.5" stroke-linejoin="round"/>
<polygon points="263.9,827.1 267.5,831.4 303.6,810.5 300,806.2" fill="#f4f4f4" stroke="#111" stroke-width="1.5" stroke-linejoin="round"/>
<polygon points="287.2,865.5 289.1,870.8 325.2,849.9 323.3,844.7" fill="#f4f4f4" stroke="#111" stroke-width="1.5" stroke-linejoin="round"/>
<polygon points="280.9,851.8 283.5,857 319.6,836.1 317,831" fill="#f4f4f4" stroke="#111" stroke-width="1.5" stroke-linejoin="round"/>
<polygon points="273,838.9 276.2,843.7 312.3,822.8 309.1,818" fill="#f4f4f4" stroke="#111" stroke-width="1.5" stroke-linejoin="round"/>
<polygon points="303.9,889.9 304.7,895.1 340.8,874.2 340,869.1" fill="#f4f4f4" stroke="#111" stroke-width="1.5" stroke-linejoin="round"/>
<polygon points="250.6,801.4 254.7,804.7 290.8,783.8 286.8,780.6" fill="#f4f4f4" stroke="#111" stroke-width="1.5" stroke-linejoin="round"/>
<polygon points="266.9,816.5 263.9,827.1 300,806.2 303,795.7" fill="#b0b0b0" stroke="#111" stroke-width="1.5" stroke-linejoin="round"/>
<polygon points="289.1,870.8 299.8,873.5 335.9,852.6 325.2,849.9" fill="#b0b0b0" stroke="#111" stroke-width="1.5" stroke-linejoin="round"/>
<polygon points="278,830.4 273,838.9 309.1,818 314.2,809.5" fill="#b0b0b0" stroke="#111" stroke-width="1.5" stroke-linejoin="round"/>
<polygon points="283.5,857 293.3,856.8 329.4,836 319.6,836.1" fill="#b0b0b0" stroke="#111" stroke-width="1.5" stroke-linejoin="round"/>
<polygon points="276.2,843.7 284.8,840.7 321,819.9 312.3,822.8" fill="#b0b0b0" stroke="#111" stroke-width="1.5" stroke-linejoin="round"/>
<polygon points="287.7,845.8 280.9,851.8 317,831 323.9,824.9" fill="#b0b0b0" stroke="#111" stroke-width="1.5" stroke-linejoin="round"/>
<polygon points="263.1,812.5 266.9,816.5 303,795.7 299.2,791.6" fill="#f4f4f4" stroke="#111" stroke-width="1.5" stroke-linejoin="round"/>
<polygon points="299.8,873.5 301.3,878.8 337.5,857.9 335.9,852.6" fill="#f4f4f4" stroke="#111" stroke-width="1.5" stroke-linejoin="round"/>
<polygon points="274.6,825.8 278,830.4 314.2,809.5 310.7,804.9" fill="#f4f4f4" stroke="#111" stroke-width="1.5" stroke-linejoin="round"/>
<polygon points="293.3,856.8 295.6,862.1 331.7,841.3 329.4,836" fill="#f4f4f4" stroke="#111" stroke-width="1.5" stroke-linejoin="round"/>
<polygon points="284.8,840.7 287.7,845.8 323.9,824.9 321,819.9" fill="#f4f4f4" stroke="#111" stroke-width="1.5" stroke-linejoin="round"/>
<polygon points="276.2,843.7 284.8,840.7 287.7,845.8 280.9,851.8 283.5,857 293.3,856.8 295.6,862.1 287.2,865.5 289.1,870.8 299.8,873.5 301.3,878.8 291.7,879.4 292.9,884.6 303.9,889.9 304.7,895.1 294.2,892.9 294.6,897.8 305.6,905.6 305.6,910.4 294.6,905.5 294.2,909.9 304.8,920 304,924.2 292.9,916.7 291.7,920.6 301.4,932.4 299.9,935.9 289.2,926.2 287.3,929.2 295.8,942.4 293.5,945.1 283.6,933.5 281,935.6 287.9,949.7 285,951.3 276.3,938.3 273.2,939.5 278.3,953.8 274.8,954.5 267.7,940.6 264.1,940.7 267.1,954.8 263.3,954.4 257.9,940.1 254,939.2 254.9,952.5 250.9,951.1 247.5,936.9 243.4,935 242.2,947 238.1,944.6 236.8,931.2 232.7,928.4 229.4,938.6 225.3,935.3 226.2,923.1 222.3,919.4 216.9,927.5 213.1,923.5 216.1,912.9 212.5,908.6 205.4,914.2 202,909.6 207,901.1 203.8,896.3 195.2,899.3 192.3,894.2 199.1,888.2 196.5,883 186.7,883.2 184.4,877.9 192.8,874.5 190.9,869.2 180.2,866.5 178.7,861.2 188.3,860.6 187.1,855.4 176.1,850.1 175.3,844.9 185.8,847.1 185.4,842.2 174.4,834.4 174.4,829.6 185.4,834.5 185.8,830.1 175.2,820 176,815.8 187.1,823.3 188.3,819.4 178.6,807.6 180.1,804.1 190.8,813.8 192.7,810.8 184.2,797.6 186.5,794.9 196.4,806.5 199,804.4 192.1,790.3 195,788.7 203.7,801.7 206.8,800.5 201.7,786.2 205.2,785.5 212.3,799.4 215.9,799.3 212.9,785.2 216.7,785.6 222.1,799.9 226,800.8 225.1,787.5 229.1,788.9 232.5,803.1 236.6,805 237.8,793 241.9,795.4 243.2,808.8 247.3,811.6 250.6,801.4 254.7,804.7 253.8,816.9 257.7,820.6 263.1,812.5 266.9,816.5 263.9,827.1 267.5,831.4 274.6,825.8 278,830.4 273,838.9" fill="#fff" stroke="#111" stroke-width="1.9" stroke-linejoin="round"/>
<ellipse class="k" cx="240" cy="870" rx="43.1" ry="75" transform="rotate(-30 240 870)"/>
<ellipse class="kn" cx="240" cy="870" rx="38.5" ry="67" transform="rotate(-30 240 870)"/>
<ellipse class="kn" cx="240" cy="870" rx="35.1" ry="61" transform="rotate(-30 240 870)"/>
<ellipse class="t" cx="240" cy="870" rx="32.8" ry="57" transform="rotate(-30 240 870)"/>
<ellipse class="k" cx="239" cy="871" rx="28.5" ry="49" transform="rotate(-30 239 871)"/>
<clipPath id="gbore"><ellipse cx="239" cy="871" rx="27.5" ry="48" transform="rotate(-30 239 871)"/></clipPath>
<g clip-path="url(#gbore)">
<ellipse class="" cx="250" cy="866" rx="24" ry="44" transform="rotate(-30 250 866)" fill="#4a4a4a"/>
<line x1="203" y1="842.5" x2="283" y2="796.5" stroke="#cfcfcf" stroke-width="1.6"/>
<line x1="203" y1="849" x2="283" y2="803" stroke="#cfcfcf" stroke-width="1.6"/>
<line x1="203" y1="855.5" x2="283" y2="809.5" stroke="#cfcfcf" stroke-width="1.6"/>
<line x1="203" y1="862" x2="283" y2="816" stroke="#cfcfcf" stroke-width="1.6"/>
<line x1="203" y1="868.5" x2="283" y2="822.5" stroke="#cfcfcf" stroke-width="1.6"/>
<line x1="203" y1="875" x2="283" y2="829" stroke="#cfcfcf" stroke-width="1.6"/>
<line x1="203" y1="881.5" x2="283" y2="835.5" stroke="#cfcfcf" stroke-width="1.6"/>
<line x1="203" y1="888" x2="283" y2="842" stroke="#cfcfcf" stroke-width="1.6"/>
<line x1="203" y1="894.5" x2="283" y2="848.5" stroke="#cfcfcf" stroke-width="1.6"/>
<line x1="203" y1="901" x2="283" y2="855" stroke="#cfcfcf" stroke-width="1.6"/>
<line x1="203" y1="907.5" x2="283" y2="861.5" stroke="#cfcfcf" stroke-width="1.6"/>
<line x1="203" y1="914" x2="283" y2="868" stroke="#cfcfcf" stroke-width="1.6"/>
<line x1="203" y1="920.5" x2="283" y2="874.5" stroke="#cfcfcf" stroke-width="1.6"/>
<line x1="203" y1="927" x2="283" y2="881" stroke="#cfcfcf" stroke-width="1.6"/>
<line x1="203" y1="933.5" x2="283" y2="887.5" stroke="#cfcfcf" stroke-width="1.6"/>
<ellipse class="" cx="226" cy="880" rx="10" ry="30" transform="rotate(-30 226 880)" fill="#fff" stroke="#333" stroke-width="1.2"/>
</g>
<ellipse class="t" cx="239" cy="871" rx="25" ry="45" transform="rotate(-30 239 871)"/>
<path class="d" d="M186,901.5 L250,864.5"/>
<path class="k" d="M187.7,901.8A26.8,41.7 -30 1 0 141.3,928.6A26.8,41.7 -30 1 0 187.7,901.8ZM177.1,907.2A15.5,29.9 -30 1 0 150.3,922.6A15.5,29.9 -30 1 0 177.1,907.2Z" fill-rule="evenodd"/>
<ellipse class="t" cx="163.2" cy="916" rx="25.3" ry="40.2" transform="rotate(-30 163.2 916)"/>
<ellipse class="t" cx="162.4" cy="915.6" rx="17.1" ry="31.5" transform="rotate(-30 162.4 915.6)"/>
<path class="k" d="M66.1,924.4C66.6,923.4 66.8,920.2 69,918.5C71.2,916.8 75.9,915.3 79.3,914.1C82.7,912.9 87.3,910.7 89.5,911.2C91.7,911.7 90.2,916.3 92.4,917C94.6,917.7 99,914.4 102.7,915.6C106.4,916.8 110.8,921 114.4,924.4C118.1,927.8 122,932.1 124.6,936C127.1,939.9 129.2,944.9 129.7,947.8C130.2,950.7 127.5,950.7 127.5,953.6C127.5,956.5 128.7,962.9 129.7,965.3C130.7,967.7 132.9,966.2 133.4,968.2C133.9,970.2 133.8,973.8 132.6,977C131.4,980.2 130,984 126,987.2C122,990.4 111.9,995.3 108.5,996C105.1,996.7 108,992.2 105.6,991.6C103.2,991 98.3,993.4 93.9,992.4C89.5,991.4 83.7,989.3 79.3,985.8C74.9,982.3 69.8,976.1 67.5,971.2C65.2,966.3 66.2,961.6 65.4,956.5C64.6,951.4 62.6,945 62.4,940.4C62.1,935.8 63.3,931.4 63.9,928.7C64.5,926 65.7,925.1 66.1,924.4Z"/>
<path class="k" d="M107.6,948A20.1,33.5 -30 1 0 72.9,968A20.1,33.5 -30 1 0 107.6,948ZM102.4,951.5A6.4,25.5 -30 1 0 91.2,957.9A6.4,25.5 -30 1 0 102.4,951.5Z" fill-rule="evenodd"/>
<ellipse class="t" cx="91.5" cy="957" rx="17.4" ry="30.7" transform="rotate(-30 91.5 957)"/>
<ellipse class="t" cx="93" cy="956" rx="14.3" ry="28.9" transform="rotate(-30 93 956)"/>
<path class="t" d="M79.5,915L80,926"/>
<path class="t" d="M92.4,917L93,928"/>
<path class="t" d="M105,925C106.2,926.3 109.8,930 112,933C114.2,936 116.5,939.7 118,943C119.5,946.3 120.5,951.3 121,953"/>
<path class="kn" d="M118,953L129.7,947.8"/>
<path class="kn" d="M121,967L133.4,968.2"/>
<path class="t" d="M120,970L118,990"/>
</g>
<g id="rod1">
<path class="k" d="M532.5,48.5C532.9,47.3 533.1,43.8 534.7,41.1C536.3,38.4 538.8,35.1 542,32.3C545.2,29.5 549.4,26.4 553.8,24.2C558.2,22 563.9,20.4 568.5,19.1C573.1,17.8 578.3,16.6 581.7,16.2C585.1,15.8 586,15.7 589,16.9C592,18.1 596.2,20.7 599.4,23.5C602.6,26.3 605.8,30.4 608.2,33.8C610.6,37.2 612.5,40.3 614,44C615.5,47.7 616.5,52.1 617,55.8C617.5,59.5 617.1,62.4 617,66.1C616.9,69.8 616.3,74.2 616.3,77.9C616.3,81.6 616.1,84.5 617,88.2C617.9,91.9 619.7,95.5 621.4,99.9C623.1,104.3 625.1,109.2 627.3,114.6C629.5,120 632.3,126.4 634.6,132.3C636.9,138.2 638.5,143.7 641.1,150C643.7,156.3 646.7,162.1 650.4,170.4C654.1,178.7 658.4,190.4 663.3,200C668.2,209.6 674.8,220.4 680,227.8C685.2,235.2 689.2,239.5 694.8,244.4C700.3,249.3 707.8,252.5 713.3,257.4C718.8,262.3 724.1,267.8 728.1,274C732.1,280.2 735.5,289.4 737.4,294.4C739.3,299.3 739,302.1 739.3,303.7L693,320.4C692,318.3 689.2,312.1 687,308C684.8,303.9 682.8,299.8 680,296C677.2,292.2 673.7,287.8 670,285C666.3,282.2 660,280.4 658,279.5C658.3,282.6 659,292.7 659.6,298C660.2,303.3 661.2,308.9 661.5,311.1L617,330.6C615.8,327.7 611.4,317.8 609.6,313C607.8,308.2 606,306.5 606,301.9C606,297.3 608.1,290.8 609.6,285.2C611.1,279.6 614,274.7 615.2,268.5C616.4,262.3 617.3,254.8 617,248C616.7,241.2 615.1,234.9 613.3,227.8C611.5,220.7 609.1,213.9 606,205.6C602.9,197.3 598.5,187.1 594.8,177.8C591.1,168.5 586.9,158.8 583.7,150C580.5,141.2 578.1,131.4 575.8,125C573.5,118.6 572,115.6 570,111.7C568,107.8 566,103.9 564,101.4C562,99 561.1,99.7 558.2,97C555.3,94.3 549.9,89.1 546.5,85.2C543.1,81.3 539.8,77.2 537.6,73.5C535.4,69.8 534.1,67.4 533.2,63.2C532.4,59 532.6,51 532.5,48.5Z"/>
<ellipse class="t" cx="558" cy="66" rx="22" ry="31" transform="rotate(-20 558 66)"/>
<ellipse class="" cx="559" cy="67.6" rx="17.5" ry="24.5" transform="rotate(-20 559 67.6)" fill="none" stroke="#777" stroke-width="2.6"/>
<ellipse class="kn" cx="560.2" cy="68.7" rx="13.5" ry="21" transform="rotate(-22 560.2 68.7)"/>
<path class="kn" d="M553,49.5C553.9,50.1 556.7,51.2 558.5,53C560.3,54.8 562.5,57.5 564,60C565.5,62.5 566.7,65.5 567.5,68C568.3,70.5 569.1,73.3 569,75.3C568.9,77.3 567.3,79.2 567,80"/>
<path class="t" d="M558,52C558.8,53.3 561.2,57.3 562.5,60C563.8,62.7 564.8,65.5 565.5,68C566.2,70.5 566.3,73.8 566.5,75"/>
<ellipse class="m" cx="581.7" cy="31.6" rx="3.5" ry="3"/>
<path class="t" d="M568.5,22C571.9,24.7 583.4,31.3 589,38.2C594.6,45.1 599.1,55.9 602.3,63.2C605.5,70.5 606.2,75.7 608.2,82.3C610.2,88.9 611.5,95.8 614,102.9C616.5,110 620,117.2 623,125C626,132.8 628.3,141.2 631.9,150C635.5,158.8 639.9,168.5 644.8,177.8C649.7,187.1 656,197 661.5,205.6C667,214.2 673.1,222.5 678,229.6C682.9,236.7 686.5,242.9 691,248C695.5,253.1 702.7,258 705,260"/>
<path class="kn" d="M572,101C573.3,101.1 577.3,101 580,101.5C582.7,102 585.7,102.9 588,104C590.3,105.1 592.2,106.3 594,108C595.8,109.7 596.6,109.1 598.9,114.3C601.2,119.5 603.2,129 607.6,138.9C612,148.8 619.9,163.2 625.2,174C630.5,184.8 635.1,194.8 639.2,203.8C643.3,212.9 647.7,221 649.7,228.3C651.8,235.6 652.1,242.9 651.5,247.6C650.9,252.3 647.1,254.9 646.2,256.4"/>
<path class="" d="M571,102C571.5,102.8 571.8,100.8 574,107C576.2,113.2 579.9,126.4 584.5,139C589.1,151.6 596.3,169.6 601.5,182.7C606.7,195.8 612.3,209.6 615.5,217.8C618.7,226 619.4,227 620.5,232C621.6,237 621.8,245.3 622,248" fill="none" stroke="#333" stroke-width="2"/>
<path class="t" d="M583,117.8C586.3,127.3 597.7,159.6 603,175C608.3,190.4 611.3,199.2 615,210C618.7,220.8 623.3,235 625,240"/>
<path class="t" d="M586.6,118.4C589.9,127.8 601.3,159.7 606.6,175C611.9,190.3 614.7,199.2 618.3,210C621.9,220.8 626.4,235 628,240"/>
<path class="t" d="M590.2,119C593.5,128.3 605,159.8 610.2,175C615.4,190.2 618.1,199.2 621.6,210C625.1,220.8 629.4,235 631,240"/>
<path class="t" d="M593.8,119.6C597.1,128.8 608.6,159.9 613.8,175C619,190.1 621.5,199.2 624.9,210C628.3,220.8 632.5,235 634,240"/>
<path class="t" d="M604,121.3C606.7,126.9 614.7,143.6 620,155C625.3,166.4 631.3,180 636,190C640.7,200 644.8,207.5 648,215C651.2,222.5 653.8,231.7 655,235"/>
<path class="t" d="M635,244C636,243.3 638.8,240.5 641,240C643.2,239.5 646.3,240 648,241C649.7,242 650.5,245.2 651,246"/>
<path class="t" d="M634,249C635.2,248.5 638.8,246.2 641,246C643.2,245.8 645.5,247 647,248C648.5,249 649.5,251.3 650,252"/>
<path class="t" d="M633,254C634.2,253.7 637.8,252 640,252C642.2,252 645,253.7 646,254"/>
<ellipse class="kn" cx="701.3" cy="268.5" rx="11" ry="8" transform="rotate(25 701.3 268.5)"/>
<path class="t" d="M713,279C713.5,281.7 714.7,289.3 716,295C717.3,300.7 719.9,310 720.7,313"/>
<path class="t" d="M726,277C727.2,279.5 731.2,287.5 733,292C734.8,296.5 736.3,302 737,304"/>
<path class="t" d="M680,262C683.3,265.8 694.7,278.7 700,285C705.3,291.3 709.3,295 712,300C714.7,305 715.3,312.5 716,315"/>
<path class="kn" d="M622.6,288C623.5,286.9 625.2,283.2 628,281.5C630.8,279.8 635.6,278.4 639.3,277.8C643,277.2 647.3,277.5 650.4,277.8C653.5,278.1 656.7,279.2 658,279.5"/>
<path class="t" d="M622.6,288C622.3,289.7 620.7,293.2 620.7,298C620.7,302.8 621.7,311.7 622.6,316.7C623.5,321.7 625.7,325.9 626.3,327.8"/>
<path class="t" d="M660,283C661.3,284.2 665.3,287.2 668,290C670.7,292.8 673.7,296.3 676,300C678.3,303.7 681,310 682,312"/>
</g>
<g id="shell1">
<path class="k" d="M658.2,396.4C657.5,392.3 653.8,379 653.8,371.7C653.8,364.4 656,356.6 658.2,352.3C660.4,348 665.5,347.1 667,346.1L695.2,329.4C697,329.2 701.1,327.1 705.8,328C710.5,328.9 717.8,330.9 723.4,334.7C729,338.4 734.6,344.6 739.3,350.5C744,356.4 749.5,366.8 751.6,370L721.7,388.4C720.2,385.6 716.6,377.1 712.8,371.7C709,366.3 703.4,359.6 698.7,355.8C694,352 687,350 684.6,348.8C684.5,350.6 683.5,354.4 683.8,359.4C684.1,364.4 685.5,375 686.4,378.7C687.3,382.4 688.6,380.9 689,381.4L658.2,396.4Z"/>
<path class="kn" d="M667,346.1C668.5,345.9 672.9,344.4 675.8,344.9C678.7,345.3 683.1,348.1 684.6,348.8"/>
<path class="t" d="M662,394C661.3,390.3 658.2,378.5 658,372C657.8,365.5 659.3,358.8 661,355C662.7,351.2 666.8,350 668,349"/>
<rect x="741" y="366" width="6" height="6" fill="#888" transform="rotate(-30 744 369)"/>
</g>
<g id="cap1">
<path class="k" d="M326.3,468.1C326.6,465.6 326.6,457.9 328.1,453.3C329.7,448.7 332.8,443.6 335.6,440.4C338.4,437.2 341.4,435 344.8,433.9C348.2,432.8 351,433.4 355.9,433.9C360.8,434.4 368.8,435.6 374.4,436.7C380,437.8 386.2,439.2 389.3,440.4C392.4,441.6 392.1,442.2 393,444.1C393.9,446 394,448.7 394.8,451.5C395.6,454.3 397.3,458.4 397.6,460.7C397.9,463 398.1,464.2 396.7,465.4C395.3,466.6 392.4,466.7 389.3,468.1C386.2,469.5 381.5,472 378.1,473.7C374.7,475.4 370.4,477.5 368.9,478.3C368.9,480.9 368,488.3 368.9,494C369.8,499.7 371.9,506.4 374.4,512.6C376.9,518.8 380,525.5 383.7,531.1C387.4,536.7 392.4,542 396.7,546C401,550 406.2,553.1 409.6,555.2C413,557.4 415.8,558.3 417,558.9C417.3,560.4 418.9,564.4 418.9,568.1C418.9,571.8 417.6,578 417,581.1C416.4,584.2 415.5,585.8 415.2,586.7C412.1,588.7 401.6,596.9 396.7,598.7C391.8,600.6 389,598.9 385.6,597.8C382.2,596.7 380,594.1 376.3,592.2C372.6,590.4 366.7,588.2 363.3,586.7C359.9,585.2 358.4,585.2 355.9,583C353.4,580.8 350.6,577.4 348.5,573.7C346.4,570 344.5,565.3 343,560.7C341.5,556.1 340.9,551.5 339.3,545.9C337.8,540.3 335.6,534.2 333.7,527.4C331.8,520.6 329.5,511.4 328.1,505.2C326.7,499 325.7,496.6 325.4,490.4C325.1,484.2 326.1,471.8 326.3,468.1Z"/>
<path class="m" d="M348.5,481.1C347.1,482.2 342.1,484.9 340,488C337.9,491.1 336.3,495.9 335.6,500C334.9,504.1 334.7,507.4 335.6,512.6C336.5,517.8 338.6,524.9 341.1,531.1C343.6,537.3 346.7,544.1 350.4,549.6C354.1,555.1 358.7,560.4 363.3,564.4C367.9,568.4 374.7,571.8 378.1,573.7C381.6,575.6 383,575.6 384,576"/>
<path class="t" d="M350,484C348.7,485.7 343.8,489.7 342,494C340.2,498.3 338.7,504 339,510C339.3,516 341.7,523.7 344,530C346.3,536.3 349.3,542.7 353,548C356.7,553.3 361.5,558.2 366,562C370.5,565.8 377.7,569.5 380,571"/>
<path class="t" d="M330,475C332.5,475.5 340.3,477.7 345,478C349.7,478.3 354,476.9 358,477C362,477.1 367.1,478.1 368.9,478.3"/>
<ellipse class="kn" cx="378.1" cy="460.7" rx="7.2" ry="9.8" transform="rotate(10 378.1 460.7)"/>
<ellipse cx="390.5" cy="452.5" rx="2" ry="3" fill="#111"/>
<path class="t" d="M363,440C362.2,442 358.7,447.8 358,452C357.3,456.2 358.5,460.8 359,465C359.5,469.2 360.7,475 361,477"/>
<path class="t" d="M340,446C341.3,447.5 346,452.3 348,455C350,457.7 352,459.5 352,462C352,464.5 350,467.8 348,470C346,472.2 341.3,474.2 340,475"/>
<ellipse class="kn" cx="402.2" cy="579.3" rx="7.5" ry="10.5" transform="rotate(10 402.2 579.3)"/>
<path class="t" d="M383.7,575.6L415.2,560.7"/>
<path class="t" d="M383.7,575.6L385.6,597.8"/>
<path class="t" d="M352,570C353.7,571.7 358,577 362,580C366,583 373.7,586.7 376,588"/>
</g>
<g id="bolt1">
<path class="k" d="M258,531C259.9,531.4 260.7,531.2 269.7,533.4C278.7,535.6 304.9,542.6 312,544.4C313,545 316.8,546.2 318,548C319.2,549.8 319.7,552.9 319.5,555.4C319.3,557.9 318.8,561.2 317,563C315.2,564.8 310.3,565.8 309,566.4C301.5,564.2 272.3,555.8 263.8,553.2C255.3,550.6 259,551.4 258,551Z"/>
<path d="M288,539.5 L306,544.2 L303.5,565 L286,560.5 Z" fill="#7a7a7a"/>
<ellipse class="kn" cx="312.5" cy="555.4" rx="6" ry="11" transform="rotate(6 312.5 555.4)"/>
<circle cx="313.5" cy="556" r="1" fill="#333"/>
<ellipse class="" cx="243.5" cy="540.5" rx="6.5" ry="16" transform="rotate(6 243.5 540.5)" fill="#8a8a8a" stroke="#111" stroke-width="2.4"/>
<path class="t" d="M239.5,528C239.8,530 241.4,535.8 241.5,540C241.6,544.2 240.2,550.8 240,553" style="stroke:#eee;stroke-width:1.6"/>
<ellipse class="k" cx="254.5" cy="541" rx="8.5" ry="17" transform="rotate(6 254.5 541)"/>
<ellipse class="t" cx="257" cy="541.5" rx="6.5" ry="14" transform="rotate(6 257 541.5)"/>
<ellipse class="t" cx="259" cy="542" rx="5.5" ry="12" transform="rotate(6 259 542)"/>
</g>
<g id="shell2">
<path class="k" d="M455.1,509.5L484.3,493.4C486.2,493 493.4,491.1 496,491.2C498.6,491.3 499.4,493 499.7,494.1C499.9,495.2 497.9,497.2 497.5,497.8C493.8,500 479.6,508.6 475.5,510.9C471.4,513.2 473.1,511.6 472.6,511.7C472.7,514.5 472.3,522.8 473.3,528.5C474.3,534.2 475.9,540.2 478.5,546C481.1,551.8 484.8,558.6 488.7,563.5C492.6,568.4 497.1,571.5 501.8,575.2C506.6,578.9 514.6,583.8 517.2,585.5L493.1,600.8C492.4,600.9 491.6,602.4 488.7,601.5C485.8,600.6 479.9,598.6 475.5,595.7C471.1,592.8 466.5,588.6 462.4,584C458.3,579.4 453.9,573.8 450.7,567.9C447.5,562 444.9,555 443.4,548.9C441.9,542.8 441.4,536.8 441.9,531.4C442.4,526 444.1,520.4 446.3,516.8C448.5,513.1 453.6,510.7 455.1,509.5Z"/>
<path class="kn" d="M455.1,509.5C456.2,509.5 459.1,509.1 462,509.5C464.9,509.9 470.8,511.3 472.6,511.7"/>
<path class="t" d="M452,514C451,516.7 447,524.3 446,530C445,535.7 444.8,542 446,548C447.2,554 449.8,560.3 453,566C456.2,571.7 460.8,577.5 465,582C469.2,586.5 473.8,590.3 478,593C482.2,595.7 488,597.2 490,598"/>
<path class="t" d="M458,508C462.7,506 479.5,498.3 486,496C492.5,493.7 495.2,494.3 497,494"/>
<path class="t" d="M495,598L515,587"/>
<rect class="k" x="428.5" y="575.8" width="21" height="7" rx="3.5" transform="rotate(14 439 579.3)"/>
</g>
<g id="rod2">
<path class="k" d="M1045.2,729.6C1045,727.1 1045.1,720 1044.3,714.8C1043.5,709.5 1042.5,703.6 1040.6,698.1C1038.7,692.6 1035.9,686.4 1033.1,681.5C1030.3,676.6 1027.3,672.2 1023.9,668.5C1020.5,664.8 1016.8,661.8 1012.8,659.3C1008.8,656.8 1003.1,655.6 1000,653.7C996.9,651.8 995.2,649 994.3,648.1C994.1,645.6 992.7,637.9 993.3,633.3C993.9,628.7 996,623.6 998,620.4C1000,617.2 1002.3,615.6 1005.4,613.9C1008.5,612.2 1012.5,610.7 1016.5,610.2C1020.5,609.7 1025.4,610.3 1029.4,611.1C1033.4,611.9 1037.5,613.2 1040.6,614.8C1043.7,616.3 1044.9,617 1048,620.4C1051.1,623.8 1055.3,630 1059,635.2C1062.7,640.5 1065.9,646.6 1070.2,651.9C1074.5,657.1 1079.5,662.4 1085,666.7C1090.5,671 1097.3,674.7 1103.5,677.8C1109.7,680.9 1116.8,683.4 1122,685.2C1127.2,687.1 1130.8,687.4 1135,688.9C1139.2,690.4 1140.7,691.9 1147.3,694.1C1153.9,696.3 1167.8,700.6 1174.6,702.3C1181.4,704 1183.7,704.3 1188.2,704.3C1192.7,704.3 1197.2,703 1201.8,702.3C1206.3,701.6 1211.4,700.7 1215.5,700.2C1219.6,699.8 1223,699 1226.4,699.6C1229.8,700.2 1232.7,701.3 1235.9,703.6C1239.1,705.9 1242.8,710 1245.5,713.2C1248.2,716.4 1250.5,719.3 1252.3,722.7C1254.1,726.1 1255.3,730.1 1256.4,733.7C1257.5,737.4 1258.9,741 1259.1,744.6C1259.3,748.2 1258.6,752.4 1257.8,755.5C1257,758.6 1256,760.5 1254,763C1252,765.5 1249,768.2 1246,770.5C1243,772.8 1239.7,775.3 1236,777C1232.3,778.7 1227.6,779.4 1223.7,780.5C1219.8,781.6 1216.5,783 1212.8,783.4C1209.1,783.8 1205.2,783.8 1201.8,782.8C1198.4,781.8 1195,779.6 1192.3,777.3C1189.6,775 1187.3,771.6 1185.5,769.1C1183.7,766.6 1183.7,764.1 1181.4,762.3C1179.1,760.5 1176.3,759.8 1171.8,758.2C1167.2,756.6 1160.2,754.8 1154.1,752.8C1148,750.8 1141.6,748 1135,746.3C1128.4,744.6 1121.1,743.5 1114.6,742.6C1108.1,741.7 1101.3,740.7 1096.1,740.7C1090.8,740.7 1086.2,740.7 1083.1,742.6C1080,744.5 1080.1,748.5 1077.6,751.9C1075.1,755.3 1072,759.6 1068.3,763C1064.6,766.4 1058.8,770.2 1055.4,772.2C1052,774.2 1051.7,775 1048,775C1044.3,775 1037.4,773.6 1033.1,772.2C1028.8,770.8 1024.6,769.2 1022,766.7C1019.4,764.2 1018.3,760.8 1017.4,757.4C1016.5,754 1015.7,749.1 1016.5,746.3C1017.3,743.5 1021.1,741.6 1022,740.7C1024.2,739.8 1031.1,737.1 1035,735.2C1038.9,733.4 1043.5,730.5 1045.2,729.6Z"/>
<path class="t" d="M996,639C997.3,638.5 1000.8,636.8 1004,636C1007.2,635.2 1011.3,634.8 1015,634C1018.7,633.2 1024.2,631.5 1026,631"/>
<path class="t" d="M1004,636C1003.8,634.8 1002.8,631.3 1003,629C1003.2,626.7 1004.7,623.2 1005,622"/>
<path class="t" d="M1010,631C1009.7,632.5 1008.2,636.8 1008,640C1007.8,643.2 1008,647.3 1009,650C1010,652.7 1013.2,655 1014,656"/>
<path class="" d="M1019,647C1021.7,648.7 1029.8,653.5 1035,657C1040.2,660.5 1044.8,664.2 1050,668C1055.2,671.8 1063.3,678 1066,680" fill="none" stroke="#555" stroke-width="2.2"/>
<path class="t" d="M1054,652C1056.7,653.7 1064.8,658.5 1070,662C1075.2,665.5 1080,669.3 1085,673C1090,676.7 1097.5,682.2 1100,684"/>
<path class="t" d="M1069,679C1071.7,680.3 1079.8,684.4 1085,687C1090.2,689.6 1094.2,692.1 1100,694.6C1105.8,697.1 1116.7,700.8 1120,702"/>
<ellipse class="kn" cx="1046.4" cy="638.9" rx="11.5" ry="12.5" transform="rotate(-20 1046.4 638.9)"/>
<path class="kn" d="M1055.4,700.9C1055.8,699.8 1056.8,695.7 1058,694C1059.2,692.3 1060.1,691.4 1062.8,690.7C1065.5,690 1067.7,688.8 1073.9,689.8C1080.1,690.8 1089.8,694.1 1100,697C1110.2,699.9 1124.2,703.3 1135,707.4C1145.8,711.5 1158.9,718.4 1165,721.4C1171.1,724.4 1170.2,723.5 1171.8,725.5C1173.4,727.5 1174.1,732.3 1174.6,733.7"/>
<path class="kn" d="M1057,728C1058.6,728 1059.3,727 1066.5,727.8C1073.7,728.6 1088.6,731.1 1100,733C1111.4,734.9 1124.2,736.2 1135,739C1145.8,741.8 1157.5,746.3 1165,750C1172.5,753.7 1177.5,759.2 1180,761"/>
<path class="t" d="M1085,707C1092.5,708.3 1115.8,711.7 1130,715C1144.2,718.3 1163.3,725 1170,727"/>
<path class="t" d="M1085,710.2C1092.5,711.7 1115.8,715.5 1130,719C1144.2,722.5 1163.3,729 1170,731"/>
<path class="t" d="M1085,713.4C1092.5,715 1115.8,719.4 1130,723C1144.2,726.6 1163.3,733 1170,735"/>
<path class="t" d="M1085,716.6C1092.5,718.3 1115.8,723.3 1130,727C1144.2,730.7 1163.3,737 1170,739"/>
<path class="t" d="M1063,695C1062.8,696.8 1061.7,702.2 1062,706C1062.3,709.8 1063.8,715.2 1065,718C1066.2,720.8 1068.3,722.2 1069,723"/>
<path class="t" d="M1069,694C1068.8,696 1067.7,702 1068,706C1068.3,710 1069.7,715.2 1071,718C1072.3,720.8 1075.2,722.2 1076,723"/>
<path class="t" d="M1075,696C1074.8,697.8 1073.7,703.3 1074,707C1074.3,710.7 1075.7,715.7 1077,718C1078.3,720.3 1081.2,720.5 1082,721"/>
<path class="t" d="M1062,646C1064.2,648.3 1069.5,655.3 1075,660C1080.5,664.7 1087.5,670 1095,674C1102.5,678 1110.8,680.7 1120,684C1129.2,687.3 1139.2,690.8 1150,694C1160.8,697.2 1179.2,701.5 1185,703"/>
<path class="" d="M1038,679C1039,681.5 1042.2,688.8 1044,694C1045.8,699.2 1047.7,705 1049,710C1050.3,715 1051.2,719.3 1052,724C1052.8,728.7 1053.7,735.7 1054,738" fill="none" stroke="#999" stroke-width="5"/>
<ellipse class="kn" cx="1068" cy="760" rx="5" ry="10.5" transform="rotate(40 1068 760)"/>
<path class="t" d="M1035,742C1035.8,744.2 1038.3,750.3 1040,755C1041.7,759.7 1044.2,767.5 1045,770"/>
<ellipse class="t" cx="1200.5" cy="750.7" rx="19.7" ry="35.2" transform="rotate(-30 1200.5 750.7)"/>
<ellipse class="k" cx="1199" cy="752" rx="15.1" ry="27.8" transform="rotate(-30 1199 752)"/>
<ellipse class="kn" cx="1200" cy="752" rx="12.9" ry="24.3" transform="rotate(-30 1200 752)"/>
<path class="t" d="M1207,746L1212,752"/>
<ellipse class="m" cx="1231" cy="722.7" rx="4" ry="4"/>
<path class="t" d="M1214,706C1215.8,707.2 1221.3,709.3 1225,713C1228.7,716.7 1233.2,722.7 1236,728C1238.8,733.3 1240.8,738.8 1242,745C1243.2,751.2 1242.8,761.7 1243,765"/>
</g>
<g id="shell3">
<path class="k" d="M899,624.4C901.1,623.4 907.1,620.6 911.4,618.2C915.7,615.8 921.8,611.7 925,610C928.2,608.3 929.6,608.3 930.5,608C931.6,608.3 934.3,608.3 937.3,610C940.3,611.7 944.6,614.8 948.3,618.2C951.9,621.6 956,626.2 959.2,630.5C962.4,634.8 965.1,639.6 967.4,644.1C969.7,648.6 971.5,653.2 972.8,657.8C974,662.4 974.7,667.2 974.9,671.5C975.1,675.8 975,679.8 974.2,683.7C973.4,687.6 972.4,691.7 970.1,694.7C967.8,697.7 964.6,699 960.5,701.5C956.4,704 949.8,707.4 945.5,709.7C941.2,712 938.7,713.7 934.6,715.1C930.5,716.5 924,717.7 921,717.9C918,718.1 917.6,716.7 916.9,716.5C917.6,716.3 918,716.5 921,715.1C924,713.7 931,710.3 934.6,708.3C938.2,706.2 941.2,704.8 942.8,702.8C944.4,700.8 943.9,699.4 944.2,696C944.5,692.6 945.3,686.9 944.8,682.4C944.3,677.9 943.1,673.2 941.4,668.7C939.7,664.2 937.3,659.4 934.6,655.1C931.9,650.8 928.4,646.4 925,642.8C921.6,639.1 918.2,635.9 914.1,633.2C910,630.5 903,627.9 900.5,626.4C898,624.9 899.2,624.7 899,624.4Z"/>
<path class="kn" d="M900.5,626.4C902.8,627.5 910,630.5 914.1,633.2C918.2,635.9 921.6,639.1 925,642.8C928.4,646.4 931.9,650.8 934.6,655.1C937.3,659.4 939.7,664.2 941.4,668.7C943.1,673.2 944.3,677.9 944.8,682.4C945.3,686.9 944.5,692.6 944.2,696C943.9,699.4 943,701.7 942.8,702.8" style="stroke-width:3"/>
<ellipse cx="906" cy="623" rx="4" ry="2.5" fill="#888"/>
<ellipse cx="926" cy="714" rx="5" ry="2.5" fill="#888" transform="rotate(-25 926 714)"/>
</g>
<g id="shell4">
<path class="k" d="M802.9,751.3L832.9,735.4C833.5,736.6 834.8,739.9 836.4,742.9C838,745.9 840.1,749.8 842.6,753.5C845.1,757.2 848.5,762.1 851.4,765C854.3,767.9 857.4,769.7 860.2,771.1C863,772.5 866.7,773.1 868,773.5C868.2,771.2 869.2,763.5 869.1,759.7C869,755.9 867.9,753.5 867.3,750.9C866.7,748.2 865.8,745 865.5,743.8L894.6,727.9C895,729.5 896.6,733.8 897.3,737.6C898,741.4 898.9,746.8 899,750.9C899.1,755 899.1,758.9 898.2,762.3C897.3,765.7 895.5,768.8 893.7,771.1C891.9,773.5 892,773.6 887.6,776.4C883.2,779.2 870.7,786 867.3,787.9C866.3,788.3 863.6,789.3 861.1,790.5C858.6,791.7 855.2,794.4 852.3,795C849.4,795.6 846.9,795 843.5,794.1C840.1,793.2 835.7,791.8 832,789.7C828.3,787.6 824.7,784.8 821.5,781.7C818.3,778.6 815.2,774.8 812.6,771.1C810,767.4 807.2,763 805.6,759.7C804,756.4 803.4,752.7 802.9,751.3Z"/>
<path class="kn" d="M868,773.5C868.1,774.9 869.2,779.2 868.5,781.7C867.8,784.2 865.5,787.1 863.8,788.8C862,790.5 859,791.5 858,792" style="stroke-width:3"/>
<path class="t" d="M806,755C806.7,756.5 808.3,761 810,764C811.7,767 813.5,770 816,773C818.5,776 821.7,779.3 825,782C828.3,784.7 832.2,787.3 836,789C839.8,790.7 844.3,791.8 848,792C851.7,792.2 856.3,790.3 858,790"/>
<rect x="868" y="742" width="6.5" height="8" fill="#888" stroke="#222" stroke-width="1.2" transform="rotate(-25 871 746)"/>
</g>
<g id="cap2">
<path class="k" d="M822.9,842.3C824.7,840.9 829.8,836.5 833.5,834.1C837.2,831.8 841.4,829.7 845.3,828.2C849.2,826.7 852.9,825.9 857,825.3C861.1,824.7 867.8,824.8 870,824.7C871,826.9 873.3,833.3 875.8,837.6C878.3,841.9 882.1,847.1 885.2,850.6C888.3,854.1 891.5,856.3 894.6,858.8C897.7,861.3 902.4,864.6 904,865.8C904.2,864.6 905.4,861.9 905.2,858.8C905,855.7 903.9,850.9 902.9,847C901.9,843.1 899.9,837.2 899.3,835.3L946.4,814.7C947.2,817.2 949.5,824 951.1,829.4C952.7,834.8 954.2,841.3 955.8,847C957.4,852.7 959.7,860.8 960.5,863.5C958.9,865.1 954.6,868.6 951.1,872.9C947.6,877.2 943.2,884.9 939.3,889.4C935.4,893.9 931.5,897.3 927.6,900C923.7,902.7 919.7,904.6 915.8,905.8C911.9,907 907.9,907 904,907C900.1,907 897,906.6 892.3,905.8C887.6,905 881.7,903.7 875.8,902.3C869.9,900.9 862.3,899.6 857,897.6C851.7,895.6 846.2,891.7 844.1,890.5C843.9,889.9 843.6,889.5 843,887C842.4,884.5 841.8,878.7 840.6,875.2C839.4,871.7 838.2,868.9 835.9,865.8C833.5,862.7 828.7,859.1 826.5,856.4C824.3,853.7 823.5,851.8 822.9,849.4C822.3,847 822.9,843.5 822.9,842.3Z"/>
<path class="kn" d="M904,865.8C904,866.6 904.8,868.1 904,870.5C903.2,872.9 901.2,877.5 899.3,880C897.3,882.5 895.4,884.4 892.3,885.8C889.2,887.2 883.9,887.8 880.5,888.2C877.1,888.6 873.4,888 872,888"/>
<path class="m" d="M834.7,844.7C835.7,846.5 838.2,851.6 840.6,855.3C843,859 845.5,863.1 848.8,867C852.1,870.9 856.5,875.7 860.6,878.8C864.7,881.9 869.2,884 873.5,885.8C877.8,887.6 882.3,889.2 886.4,889.4C890.5,889.6 896.2,887.4 898.2,887" style="stroke:#777;stroke-width:2"/>
<path class="t" d="M825.3,844.7L866.4,828.2"/>
<path class="t" d="M830,840L868,826"/>
<path class="t" d="M902,833L944,817"/>
<path class="t" d="M912.3,836.4C913.3,838.6 917.6,844.6 918.2,849.4C918.8,854.2 916.8,859.1 916,865C915.2,870.9 913.9,881.3 913.5,884.6"/>
<path class="t" d="M926.4,830.6C927.8,833 932.2,840.5 934.6,844.7C937,848.9 938.6,852.1 941,856C943.4,859.9 947.4,866.2 948.7,868.2"/>
<path class="t" d="M944,820C945,823.3 948,832.8 950,840C952,847.2 954.8,859.6 955.8,863.5"/>
<path class="kn" d="M960.5,863.5C956.2,865.5 939.7,872.1 934.6,875.2C929.5,878.3 932,880.7 930,882.3C928,883.9 924.1,884.2 922.9,884.6"/>
<path class="t" d="M836,866C837,868.3 839.7,875.7 842,880C844.3,884.3 848.7,890 850,892"/>
<path class="t" d="M862,896C865,896.5 873.7,898.5 880,899C886.3,899.5 894.2,899.5 900,899C905.8,898.5 912.5,896.5 915,896"/>
<path class="t" d="M905,890C905.8,891.2 908.3,894.8 910,897C911.7,899.2 914.2,902 915,903"/>
<rect class="k" x="816.3" y="805" width="8" height="24" rx="3" transform="rotate(-20 820.3 817)"/>
</g>
<g id="bolt2">
<path class="k" d="M868.9,929C869.1,928.3 868.1,926.2 870,925C871.9,923.8 877.2,922.2 880,921.5C882.8,920.8 884.7,920.2 887,920.5C889.3,920.8 892.5,922.6 893.6,923C894.7,926.2 897.9,936.3 900,942.2C902.1,948.1 904.4,952.9 906.5,958.3C908.6,963.7 911.3,969.9 912.9,974.4C914.5,978.9 915.6,983.3 916.1,985.1L895.8,991.5C895.1,989 893.3,981.1 891.5,976.5C889.7,971.9 887.5,968.4 885,963.6C882.5,958.8 879.2,952.9 876.5,947.5C873.8,942.1 870.2,934.6 868.9,931.5C867.6,928.4 868.9,929.4 868.9,929Z"/>
<path d="M869.5,930 L871,925.5 L887,921 L893,923.5 L897,944 L881.8,949.5 Z" fill="#8a8a8a"/>
<path class="t" d="M896,982C897.2,981.5 900,980.2 903,979C906,977.8 912.2,975.7 914,975"/>
<rect class="k" x="898" y="998" width="26" height="17.5" rx="3" transform="rotate(-20 911 1006.7)" style="fill:#ddd"/>
<line x1="901" y1="1003.0" x2="904" y2="1012.0" stroke="#444" stroke-width="1.2"/>
<line x1="906" y1="1001.2" x2="909" y2="1010.2" stroke="#444" stroke-width="1.2"/>
<line x1="911" y1="999.4" x2="914" y2="1008.4" stroke="#444" stroke-width="1.2"/>
<line x1="916" y1="997.6" x2="919" y2="1006.6" stroke="#444" stroke-width="1.2"/>
<line x1="921" y1="995.8" x2="924" y2="1004.8" stroke="#444" stroke-width="1.2"/>
<ellipse class="k" cx="909.5" cy="996.5" rx="16.5" ry="7" transform="rotate(-20 909.5 996.5)"/>
<ellipse class="t" cx="909.5" cy="995.5" rx="12.5" ry="4.2" transform="rotate(-20 909.5 995.5)"/>
</g>
<g id="small">
<path d="M866,556 C872,551 884,550 891,556 C898,563 898,580 893,588 C888,594 875,595 866,592 Z" fill="#666" stroke="#111" stroke-width="2.2"/>
<ellipse class="k" cx="870" cy="575.8" rx="10.3" ry="17" transform="rotate(-22 870 575.8)"/>
<ellipse class="t" cx="872" cy="574.5" rx="9" ry="15" transform="rotate(-22 872 574.5)"/>
<ellipse class="t" cx="867.5" cy="578.5" rx="4.5" ry="6.5" transform="rotate(-22 867.5 578.5)"/>
<path class="t" d="M882,562C882.8,564.2 886.2,570.7 887,575C887.8,579.3 887,585.8 887,588" style="stroke:#999"/>
<rect class="k" x="906" y="541" width="25" height="11.5" rx="3" transform="rotate(-27 918.5 546.8)"/>
<path class="t" d="M910,549L928,540"/>
</g>
<text transform="translate(695,84) scale(0.96,1.06)">5</text>
<path d="M1154.4,216 V199.3 M1154.8,199.9 C1152.9,202.6 1151,203.7 1149.4,203.9" fill="none" stroke="#1a1a1a" stroke-width="2.3"/>
<text transform="translate(1159.7,216) scale(0.96,1.06)">4</text>
<text transform="translate(1088,253) scale(0.96,1.06)">3</text>
<path d="M1004.4,284 V267.3 M1004.8,267.9 C1002.9,270.6 1001,271.7 999.4,271.9" fill="none" stroke="#1a1a1a" stroke-width="2.3"/>
<path d="M1016.1,284 V267.3 M1016.5,267.9 C1014.6,270.6 1012.7,271.7 1011.1,271.9" fill="none" stroke="#1a1a1a" stroke-width="2.3"/>
<text transform="translate(803,340) scale(0.96,1.06)">8</text>
<text transform="translate(347,363) scale(0.96,1.06)">5</text>
<text transform="translate(284,401) scale(0.96,1.06)">9</text>
<text transform="translate(498,424) scale(0.96,1.06)">8</text>
<text transform="translate(1058,491) scale(0.96,1.06)">2</text>
<path d="M1047.9,523 V506.3 M1048.3,506.9 C1046.4,509.6 1044.5,510.7 1042.9,510.9" fill="none" stroke="#1a1a1a" stroke-width="2.3"/>
<path d="M968.4,535 V518.3 M968.8,518.9 C966.9,521.6 965,522.7 963.4,522.9" fill="none" stroke="#1a1a1a" stroke-width="2.3"/>
<text transform="translate(973.7,535) scale(0.96,1.06)">0</text>
<text transform="translate(957.5,586) scale(0.96,1.06)">4</text>
<path d="M990.9,586 V569.3 M991.3,569.9 C989.4,572.6 987.5,573.7 985.9,573.9" fill="none" stroke="#1a1a1a" stroke-width="2.3"/>
<text transform="translate(1336.3,745) scale(0.96,1.06)">5</text>
<text transform="translate(968,799) scale(0.96,1.06)">8</text>
<path d="M493.4,879 V862.3 M493.8,862.9 C491.9,865.6 490,866.7 488.4,866.9" fill="none" stroke="#1a1a1a" stroke-width="2.3"/>
<path d="M505.1,879 V862.3 M505.5,862.9 C503.6,865.6 501.7,866.7 500.1,866.9" fill="none" stroke="#1a1a1a" stroke-width="2.3"/>
<text transform="translate(415,917) scale(0.96,1.06)">7</text>
<path d="M95.4,827 V810.3 M95.8,810.9 C93.9,813.6 92,814.7 90.4,814.9" fill="none" stroke="#1a1a1a" stroke-width="2.3"/>
<text transform="translate(100.7,827) scale(0.96,1.06)">2</text>
<path d="M26.4,868 V851.3 M26.8,851.9 C24.9,854.6 23,855.7 21.4,855.9" fill="none" stroke="#1a1a1a" stroke-width="2.3"/>
<text transform="translate(31.7,868) scale(0.96,1.06)">3</text>
<text transform="translate(344,1010) scale(0.96,1.06)">6</text>
<text transform="translate(719,929) scale(0.96,1.06)">5</text>
<text transform="translate(753.5,991) scale(0.96,1.06)">9</text>
</svg>
</body></html>
